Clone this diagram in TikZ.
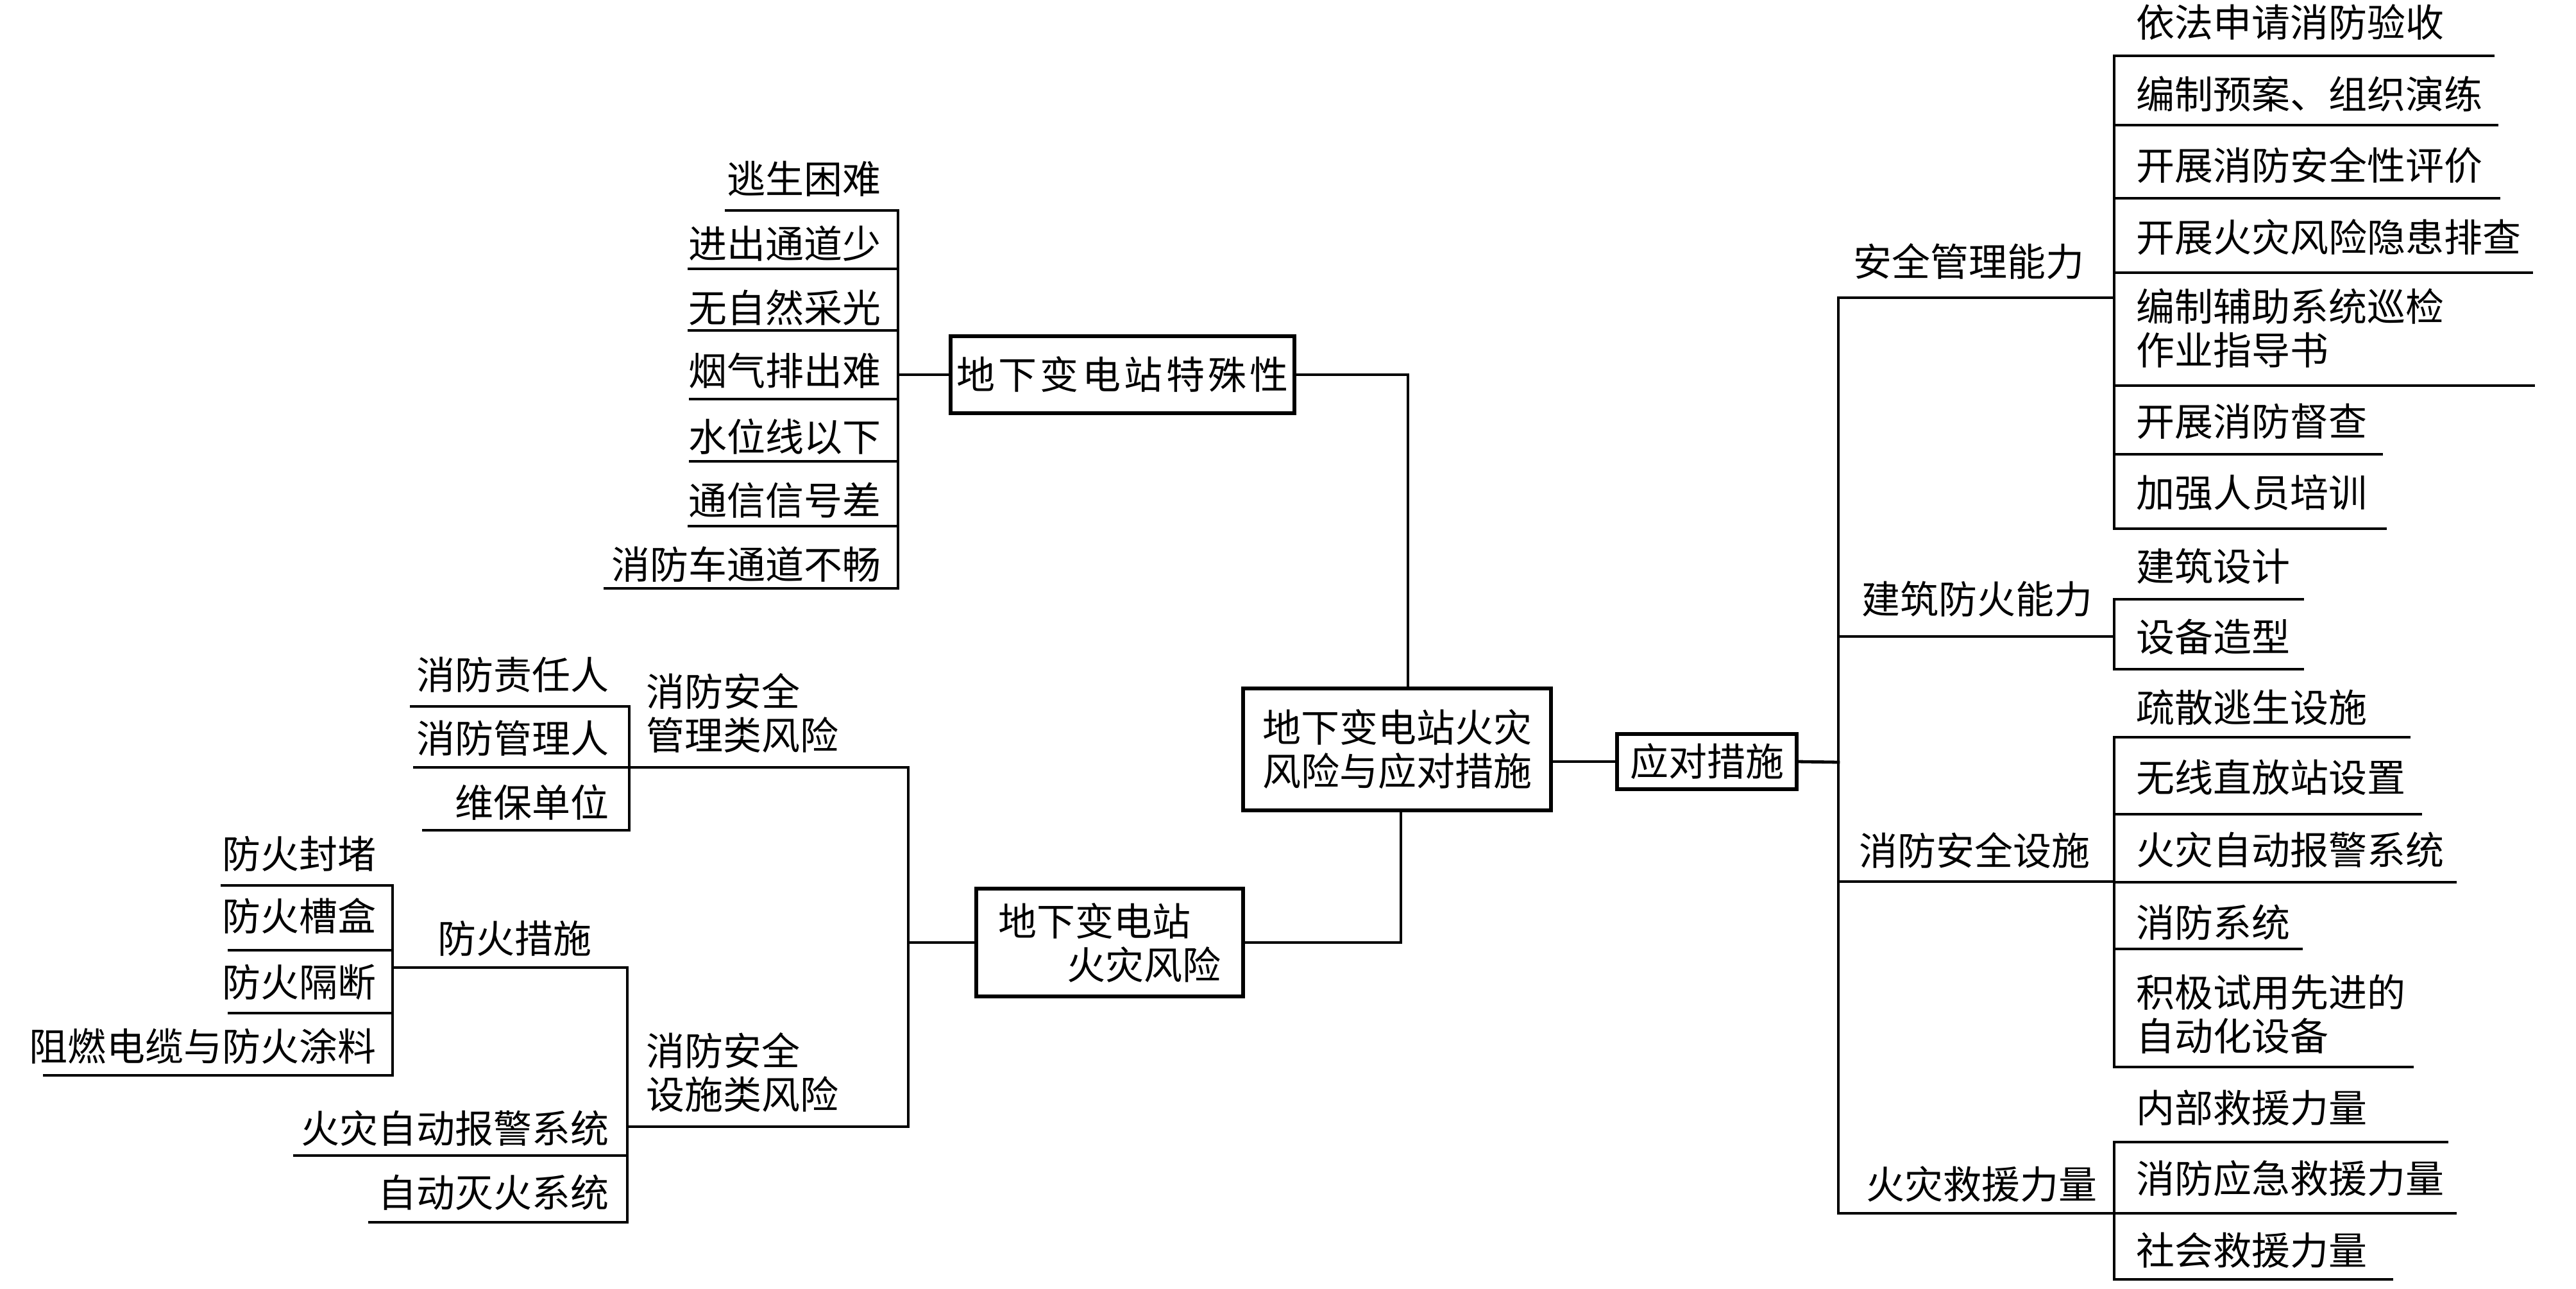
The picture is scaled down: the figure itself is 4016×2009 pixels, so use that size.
\documentclass[tikz,border=0pt]{standalone}
\usepackage{fontspec}
\setmainfont{Noto Sans CJK SC}
\newfontfamily\spacedcjk[LetterSpace=9]{Noto Sans CJK SC}
\begin{document}
\begin{tikzpicture}[x=0.25pt,y=-0.25pt,line width=1.2pt,line cap=rect,
  every node/.style={inner sep=0pt,outer sep=0pt,font=\fontsize{15pt}{17pt}\selectfont},
  lf/.style={anchor=east}, rg/.style={anchor=west, align=left},
  boxst/.style={draw,line width=1.3pt,inner sep=0pt}]
\useasboundingbox (0,0) rectangle (4016,2009);

% ---------- boxes ----------
\node[boxst, minimum width=134pt, minimum height=30pt] (sp) at (1750,584) {\spacedcjk 地下变电站特殊性};
\node[boxst, minimum width=104pt, minimum height=42pt, align=left] (fr) at (1730,1469) {地下变电站\\\hspace*{26.75pt}火灾风险};
\node[boxst, minimum width=120pt, minimum height=47.5pt, align=center] (c) at (2178,1168) {地下变电站火灾\\风险与应对措施};
\node[boxst, minimum width=70pt, minimum height=21.5pt] (m) at (2661,1187) {应对措施};

% ---------- junction coordinates ----------
\coordinate (jt) at (2195,584);
\coordinate (jb) at (2184,1469);
\coordinate (busA) at (1400,584);
\coordinate (busBC) at (1416,1469);
\coordinate (busR) at (2866,1188);

% ---------- main connectors ----------
\draw (sp.east) -- (jt) -- (jt |- c.north);
\draw (fr.east) -- (jb) -- (jb |- c.south);
\draw (c.east |- m.west) -- (m.west);
\draw (m.east) -- (busR);
\draw (busA) -- (sp.west);
\draw (busBC) -- (fr.west);

% ---------- group A: 地下变电站特殊性 ----------
\draw (1400,328) -- (1400,917);
\foreach \yy/\xx in {328/1132,419/1074,515/1074,622/1076,719/1076,820/1074,917/943}
  \draw (\xx,\yy) -- (1400,\yy);
\node[lf] (a1) at (1373,279) {逃生困难};
\node[lf] (a2) at (1373,380) {进出通道少};
\node[lf] (a3) at (1373,480) {无自然采光};
\node[lf] (a4) at (1373,578) {烟气排出难};
\node[lf] (a5) at (1373,681) {水位线以下};
\node[lf] (a6) at (1373,780) {通信信号差};
\node[lf] (a7) at (1373,880) {消防车通道不畅};

% ---------- group B: 消防安全管理类风险 ----------
\draw (981,1101) -- (981,1294);
\foreach \yy/\xx in {1101/641,1196/646,1294/660}
  \draw (\xx,\yy) -- (981,\yy);
\node[lf] (b1) at (949,1052) {消防责任人};
\node[lf] (b2) at (949,1151) {消防管理人};
\node[lf] (b3) at (949,1251) {维保单位};
\draw (981,1196) -- (1416,1196);
\node[rg] (bl) at (1007,1111) {消防安全\\管理类风险};

% ---------- sub-group: 防火措施 ----------
\draw (612,1380) -- (612,1676);
\foreach \yy/\xx in {1380/346,1481/357,1579/357,1676/69}
  \draw (\xx,\yy) -- (612,\yy);
\node[lf] (f1) at (586,1331) {防火封堵};
\node[lf] (f2) at (586,1428) {防火槽盒};
\node[lf] (f3) at (586,1531) {防火隔断};
\node[lf] (f4) at (586,1631) {阻燃电缆与防火涂料};
\draw (612,1508) -- (978,1508);
\node[rg] (fl) at (682,1463) {防火措施};

% ---------- group C: 消防安全设施类风险 ----------
\draw (978,1508) -- (978,1905);
\foreach \yy/\xx in {1801/459,1905/576}
  \draw (\xx,\yy) -- (978,\yy);
\node[lf] (c1) at (949,1759) {火灾自动报警系统};
\node[lf] (c2) at (949,1859) {自动灭火系统};
\draw (978,1756) -- (1416,1756);
\node[rg] (cl) at (1007,1671) {消防安全\\设施类风险};
\draw (1416,1196) -- (1416,1756);

% ---------- right: 应对措施 ----------
\draw (2866,464) -- (2866,1891);
\foreach \yy in {464,992,1374,1891}
  \draw (2866,\yy) -- (3296,\yy);
\node[rg] (r1) at (2889,408) {安全管理能力};
\node[rg] (r2) at (2902,934) {建筑防火能力};
\node[rg] (r3) at (2898,1325) {消防安全设施};
\node[rg] (r4) at (2909,1846) {火灾救援力量};

% sub 1
\draw (3296,87) -- (3296,824);
\foreach \yy/\xx in {87/3887,195/3893,309/3896,425/3947,601/3950,708/3713,824/3719}
  \draw (3296,\yy) -- (\xx,\yy);
\node[rg] (s11) at (3330,35) {依法申请消防验收};
\node[rg] (s12) at (3330,147) {编制预案、组织演练};
\node[rg] (s13) at (3330,258) {开展消防安全性评价};
\node[rg] (s14) at (3330,370) {开展火灾风险隐患排查};
\node[rg] (s15) at (3330,511) {编制辅助系统巡检\\作业指导书};
\node[rg] (s16) at (3330,657) {开展消防督查};
\node[rg] (s17) at (3330,768) {加强人员培训};

% sub 2
\draw (3296,934) -- (3296,1043);
\foreach \yy/\xx in {934/3590,1043/3590}
  \draw (3296,\yy) -- (\xx,\yy);
\node[rg] (s21) at (3330,883) {建筑设计};
\node[rg] (s22) at (3330,993) {设备造型};

% sub 3
\draw (3296,1149) -- (3296,1663);
\foreach \yy/\xx in {1149/3756,1269/3774,1375/3828,1479/3588,1663/3761}
  \draw (3296,\yy) -- (\xx,\yy);
\node[rg] (s31) at (3330,1103) {疏散逃生设施};
\node[rg] (s32) at (3330,1212) {无线直放站设置};
\node[rg] (s33) at (3330,1325) {火灾自动报警系统};
\node[rg] (s34) at (3330,1438) {消防系统};
\node[rg] (s35) at (3330,1581) {积极试用先进的\\自动化设备};

% sub 4
\draw (3296,1780) -- (3296,1994);
\foreach \yy/\xx in {1780/3815,1891/3828,1994/3729}
  \draw (3296,\yy) -- (\xx,\yy);
\node[rg] (s41) at (3330,1727) {内部救援力量};
\node[rg] (s42) at (3330,1837) {消防应急救援力量};
\node[rg] (s43) at (3330,1949) {社会救援力量};
\end{tikzpicture}
\end{document}
